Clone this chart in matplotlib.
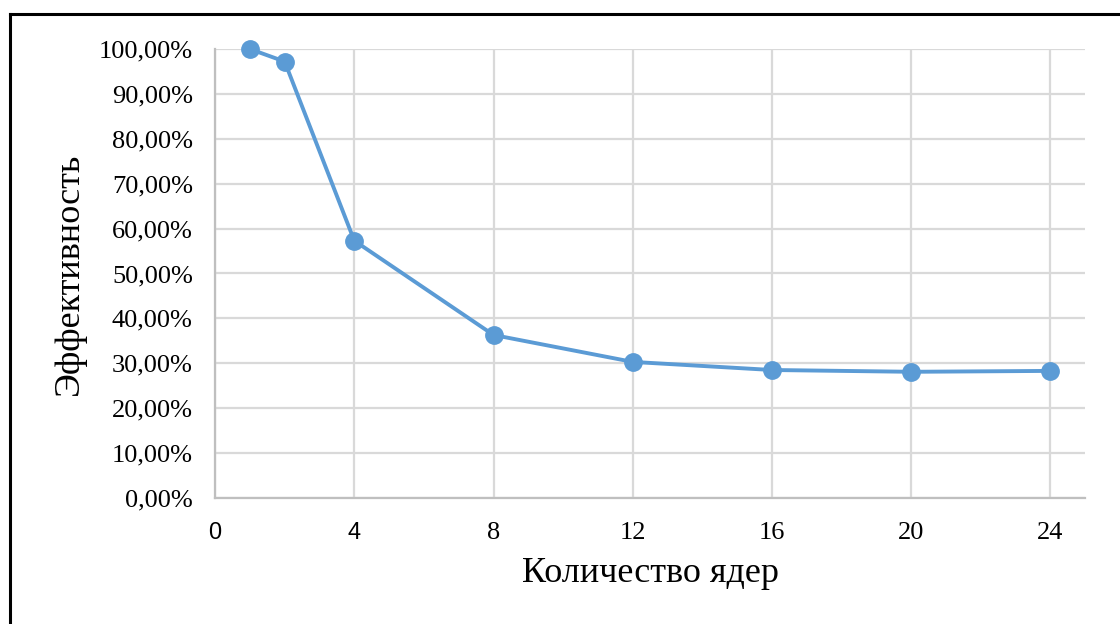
import matplotlib.pyplot as plt
from matplotlib.lines import Line2D
from matplotlib.ticker import FuncFormatter

# ядра и эффективность (доли)
cores = [1, 2, 4, 8, 12, 16, 20, 24]
efficiency = [1.000, 0.972, 0.573, 0.363, 0.303, 0.285, 0.281, 0.283]
x_ticks = [0, 4, 8, 12, 16, 20, 24]
y_ticks = [i / 10 for i in range(11)]

plt.rcParams['font.family'] = ['Liberation Serif', 'DejaVu Serif']

fig = plt.figure(figsize=(11.2, 6.24), dpi=100)
ax = fig.add_axes([0.192, 0.202, 0.777, 0.7195])

ax.plot(cores, efficiency, color='#5B9BD5', lw=2.8, marker='o', ms=12.5,
        zorder=3, clip_on=False)

ax.set_xlim(0, 25)
ax.set_ylim(0, 1)
ax.set_xticks(x_ticks)
ax.set_yticks(y_ticks)
ax.yaxis.set_major_formatter(FuncFormatter(lambda v, p: ("%.2f%%" % (v * 100)).replace('.', ',')))
ax.tick_params(length=0, labelsize=19)
ax.tick_params(axis='y', pad=16)
ax.tick_params(axis='x', pad=17)

# в оригинале "0" и "4" набраны другим шрифтом
for lab in ax.get_xticklabels()[:2]:
    lab.set_family(['Liberation Sans', 'DejaVu Sans'])
    lab.set_fontsize(17)

ax.grid(True, color='#D9D9D9', lw=1.6)
ax.set_axisbelow(True)
for s in ['top', 'right']:
    ax.spines[s].set_visible(False)
for s in ['left', 'bottom']:
    ax.spines[s].set_color('#BFBFBF')
    ax.spines[s].set_linewidth(1.6)

ax.set_xlabel('Количество ядер', fontsize=26, labelpad=10)
ax.set_ylabel('Эффективность', fontsize=26, labelpad=9)

# рамка сверху и слева
fig.add_artist(Line2D([0.009, 0.009], [0, 0.978], color='black', lw=2.2, transform=fig.transFigure))
fig.add_artist(Line2D([0.009, 1.0], [0.978, 0.978], color='black', lw=2.2, transform=fig.transFigure))

fig.savefig('out.png', dpi=100)
